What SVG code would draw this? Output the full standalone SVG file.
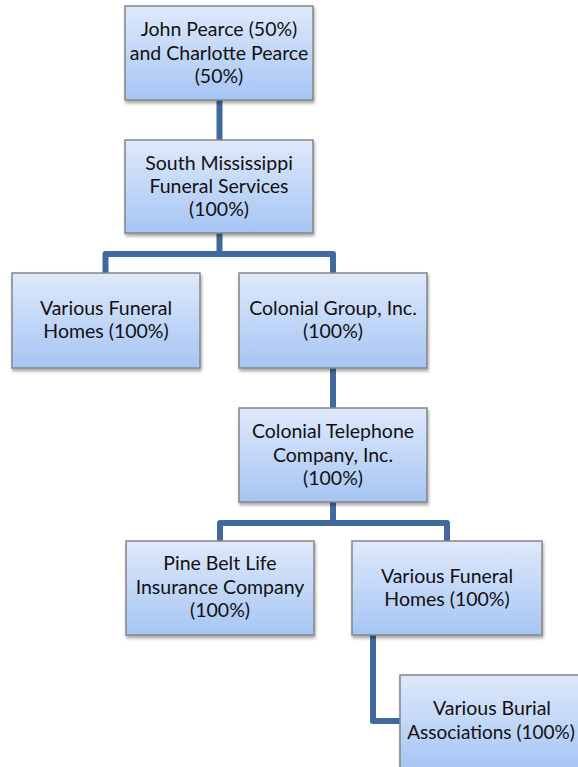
<svg xmlns="http://www.w3.org/2000/svg" width="578" height="767" viewBox="0 0 578 767">
<defs>
<linearGradient id="g" x1="0" y1="0" x2="0" y2="1">
<stop offset="0" stop-color="#dfe9fb"/>
<stop offset="1" stop-color="#a6c5f4"/>
</linearGradient>
<filter id="sh" x="-10%" y="-10%" width="125%" height="130%">
<feDropShadow dx="1" dy="2.5" stdDeviation="1.8" flood-color="#000" flood-opacity="0.35"/>
</filter>
<style>
.box{fill:url(#g);stroke:#858585;stroke-width:1.5;filter:url(#sh)}
.t{font-family:Lato,"Liberation Sans",sans-serif;font-size:19.5px;fill:#111;text-anchor:middle}
.c{fill:none;stroke:#41699d;stroke-width:6;stroke-linejoin:round}
</style>
</defs>
<rect width="578" height="767" fill="#fff"/>
<g id="connectors">
<path class="c" d="M219.5 100V140"/>
<path class="c" d="M219.5 233V254H105.5V273M219.5 254H333V273"/>
<path class="c" d="M333 368V408"/>
<path class="c" d="M333 502V523H220V541M333 523H447V541"/>
<path class="c" d="M373 635V721H400"/>
</g>
<g id="n1"><rect class="box" x="125" y="6" width="188" height="94"/>
<text class="t" x="219" y="36">John Pearce (50%)</text><text class="t" x="219" y="59.5">and Charlotte Pearce</text><text class="t" x="219" y="83">(50%)</text></g>
<g id="n2"><rect class="box" x="125" y="140" width="188" height="93"/>
<text class="t" x="219" y="170">South Mississippi</text><text class="t" x="219" y="193">Funeral Services</text><text class="t" x="219" y="216">(100%)</text></g>
<g id="n3"><rect class="box" x="12" y="273" width="188" height="95"/>
<text class="t" x="106" y="315">Various Funeral</text><text class="t" x="106" y="338">Homes (100%)</text></g>
<g id="n4"><rect class="box" x="239" y="273" width="188" height="95"/>
<text class="t" x="333" y="315">Colonial Group, Inc.</text><text class="t" x="333" y="338">(100%)</text></g>
<g id="n5"><rect class="box" x="239" y="408" width="188" height="94"/>
<text class="t" x="333" y="438">Colonial Telephone</text><text class="t" x="333" y="461.5">Company, Inc.</text><text class="t" x="333" y="485">(100%)</text></g>
<g id="n6"><rect class="box" x="126" y="541" width="188" height="94"/>
<text class="t" x="220" y="570">Pine Belt Life</text><text class="t" x="220" y="593.5">Insurance Company</text><text class="t" x="220" y="617">(100%)</text></g>
<g id="n7"><rect class="box" x="352" y="541" width="190" height="94"/>
<text class="t" x="447" y="582.5">Various Funeral</text><text class="t" x="447" y="606">Homes (100%)</text></g>
<g id="n8"><rect class="box" x="400" y="675" width="188" height="94"/>
<text class="t" x="492" y="715">Various Burial</text><text class="t" x="491" y="739" style="font-size:19px">Associations (100%)</text></g>
</svg>
